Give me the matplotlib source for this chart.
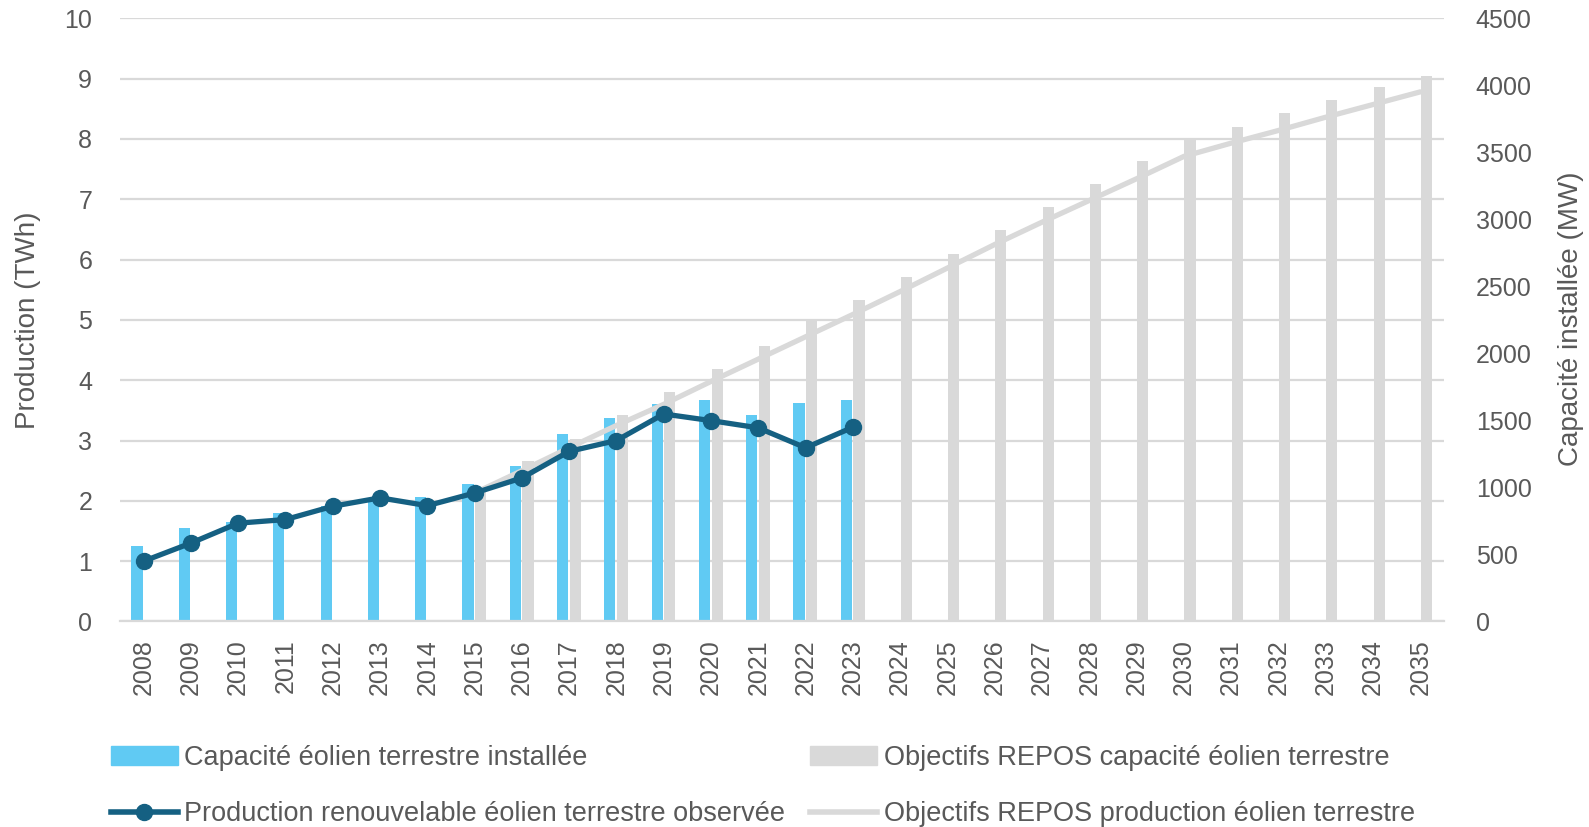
import numpy as np
import matplotlib
matplotlib.use("Agg")
import matplotlib.pyplot as plt
from matplotlib.lines import Line2D
from matplotlib.patches import Patch

plt.rcParams['font.family'] = ['Liberation Sans', 'DejaVu Sans']

# data
years = list(range(2008, 2036))
cap_obs_years = list(range(2008, 2024))
cap_obs = [560, 694, 740, 810, 860, 900, 930, 1025, 1157, 1396, 1518, 1625, 1649, 1540, 1627, 1649]
cap_repos_years = list(range(2015, 2036))
cap_repos = [980, 1194, 1360, 1538, 1709, 1884, 2053, 2239, 2400, 2573, 2745,
             2917, 3089, 3260, 3432, 3600, 3692, 3792, 3889, 3986, 4070]
prod_obs = [1.00, 1.30, 1.63, 1.69, 1.91, 2.05, 1.92, 2.13, 2.38, 2.82, 3.00, 3.44, 3.33, 3.21, 2.88, 3.22]
prod_repos = [2.13, 2.50, 2.88, 3.25, 3.60, 3.98, 4.35, 4.72, 5.09, 5.47, 5.86,
              6.25, 6.62, 6.98, 7.34, 7.71, 7.93, 8.14, 8.36, 8.57, 8.78]

BLUE = '#60CAF3'
DARK = '#156082'
GREY = '#D9D9D9'
TXT = '#595959'

fig = plt.figure(figsize=(15.89, 8.27), dpi=100)
ax = fig.add_axes([0.0755, 0.2485, 0.8332, 0.7294])
ax2 = ax.twinx()

pos = {y: i for i, y in enumerate(years)}
xb = np.array([pos[y] for y in cap_obs_years])
xg = np.array([pos[y] for y in cap_repos_years])

# bars on the MW scale (drawn first), lines on the TWh scale
ax.bar(xb - 0.14, cap_obs, width=0.235, color=BLUE, zorder=2)
ax.bar(xg + 0.13, cap_repos, width=0.235, color=GREY, zorder=2)
ax.set_ylim(0, 4500)
ax.set_yticks(np.arange(0, 4501, 500))
# gridlines follow the TWh ticks (1 TWh = 450 MW on this scale)
ax.yaxis.remove_overlapping_locs = False
ax.set_yticks(np.linspace(0, 4500, 11), minor=True)
ax.set_xlim(-0.5, len(years) - 0.5)
ax.set_xticks(range(len(years)))
ax.set_xticklabels([str(y) for y in years], rotation=90)
ax.yaxis.tick_right()
ax.grid(axis='y', which='minor', color=GREY, linewidth=1.6, zorder=0)
ax.grid(axis='y', which='major', visible=False)
ax.set_axisbelow(True)

ax2.plot(xg, prod_repos, color=GREY, linewidth=3.8, solid_capstyle='round', zorder=3)
ax2.plot(xb, prod_obs, color=DARK, linewidth=3.8, marker='o', markersize=11.5, zorder=4)
ax2.set_ylim(0, 10)
ax2.set_yticks(range(0, 11))
ax2.yaxis.tick_left()

for a in (ax, ax2):
    for s in a.spines.values():
        s.set_visible(False)
ax.spines['bottom'].set_visible(True)
ax.spines['bottom'].set_color(GREY)
ax.spines['bottom'].set_linewidth(1.6)

ax.tick_params(axis='x', length=0, pad=13, labelsize=18, colors=TXT)
ax.tick_params(axis='y', which='both', length=0, pad=23, labelsize=18, colors=TXT)
ax2.tick_params(axis='y', length=0, pad=20, labelsize=18, colors=TXT)

fig.text(0.0179, 0.613, 'Production (TWh)', rotation=90, ha='center', va='center',
         fontsize=20, color=TXT)
fig.text(0.9887, 0.614, 'Capacité installée (MW)', rotation=90, ha='center', va='center',
         fontsize=20, color=TXT)

h_cap = Patch(color=BLUE)
h_prod = Line2D([], [], color=DARK, linewidth=4, marker='o', markersize=11.5)
h_rcap = Patch(color=GREY)
h_rprod = Line2D([], [], color=GREY, linewidth=4)

leg_kw = dict(loc='upper left', frameon=False, fontsize=19.5, handlelength=2.45,
              handletextpad=0.25, labelspacing=1.12, borderpad=0, borderaxespad=0,
              labelcolor=TXT)
fig.legend([h_cap, h_prod],
           ['Capacité éolien terrestre installée',
            'Production renouvelable éolien terrestre observée'],
           bbox_to_anchor=(0.070, 0.099), **leg_kw)
fig.legend([h_rcap, h_rprod],
           ['Objectifs REPOS capacité éolien terrestre',
            'Objectifs REPOS production éolien terrestre'],
           bbox_to_anchor=(0.510, 0.099), **leg_kw)

fig.savefig('out.png', dpi=100)
